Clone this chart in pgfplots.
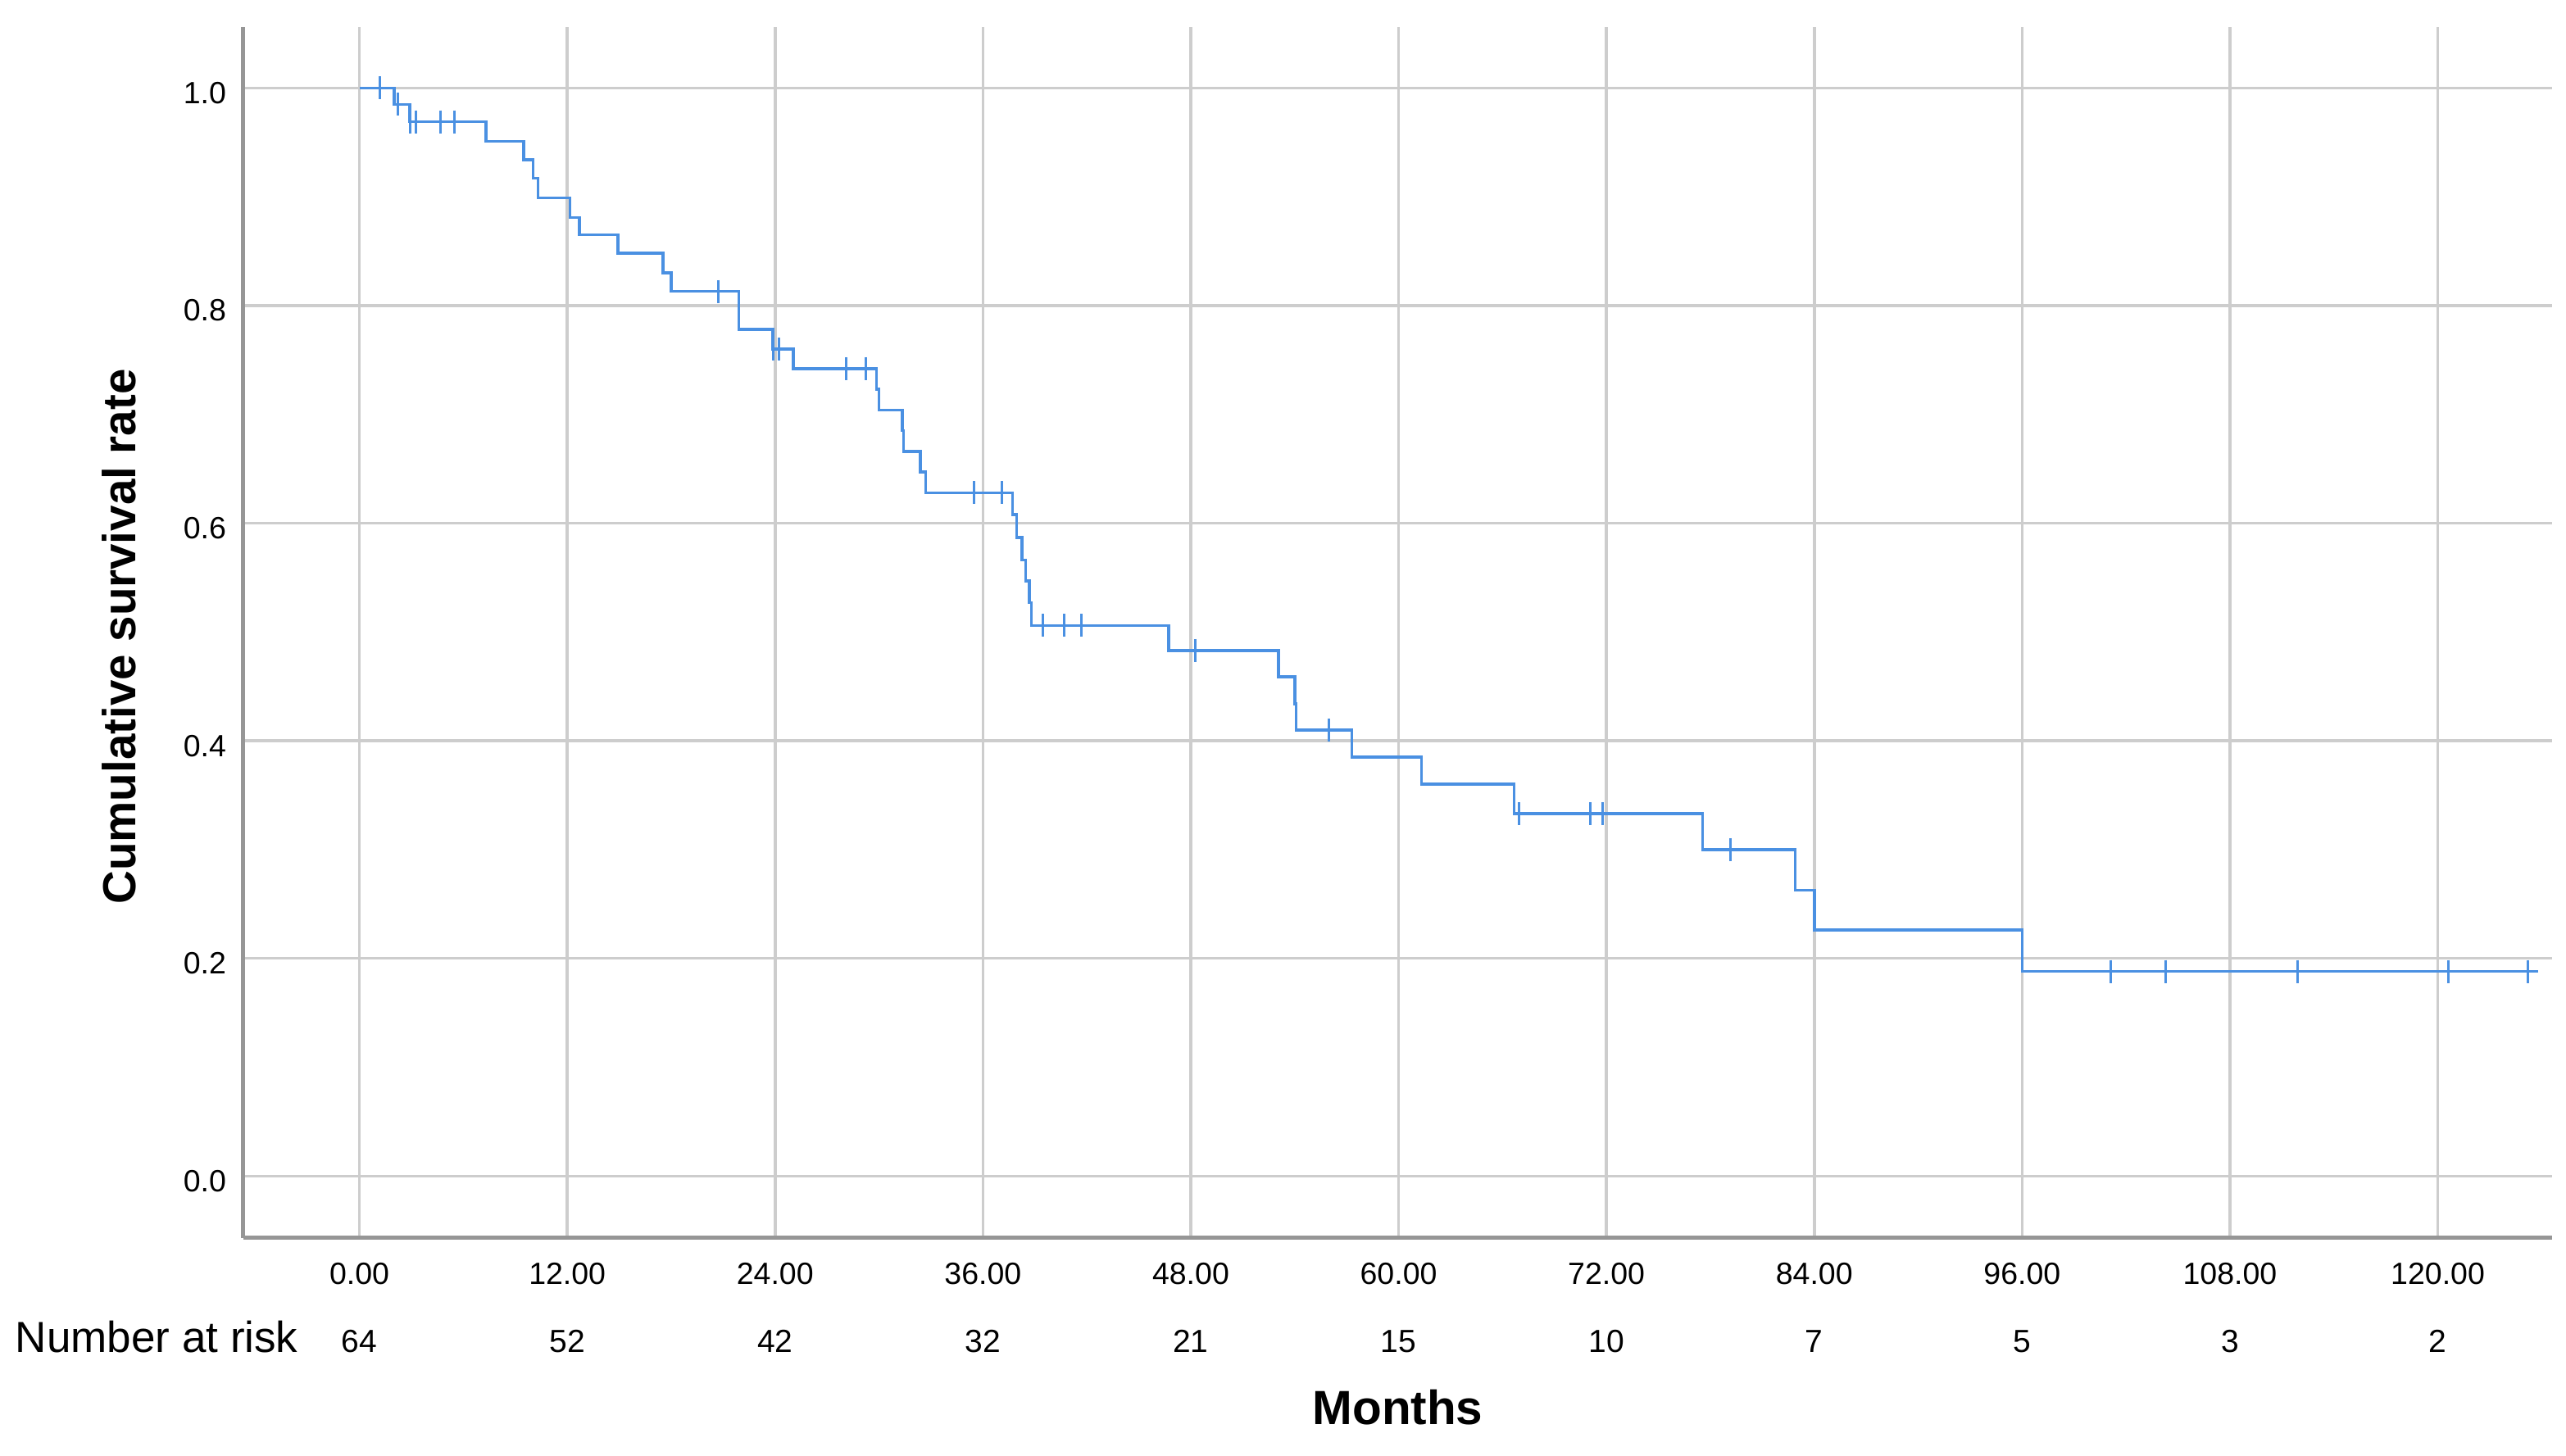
\documentclass[border=0pt]{standalone}
\usepackage{pgfplots}
\pgfplotsset{compat=1.18}
\usepackage{fontspec}
\setmainfont{Liberation Sans}
\definecolor{kmblue}{RGB}{74,144,226}
\definecolor{gridgray}{RGB}{205,205,205}
\definecolor{spinegray}{RGB}{150,150,150}
\begin{document}
\begin{tikzpicture}
\begin{axis}[
  name=ax,
  scale only axis,
  width=563.4pt, height=295.6pt,
  xmin=-6.7, xmax=126.6,
  ymin=-0.057, ymax=1.056,
  axis x line=bottom, axis y line=left,
  axis line style={draw=spinegray, line width=1pt, -},
  xtick={0,12,24,36,48,60,72,84,96,108,120},
  xticklabels={0.00,12.00,24.00,36.00,48.00,60.00,72.00,84.00,96.00,108.00,120.00},
  ytick={0,0.2,0.4,0.6,0.8,1.0},
  yticklabels={0.0,0.2,0.4,0.6,0.8,1.0},
  major tick length=0pt,
  grid=major,
  major grid style={draw=gridgray, line width=0.7pt},
  xticklabel style={font=\fontsize{7.5}{9}\selectfont, inner sep=0pt, yshift=-5.8pt},
  yticklabel style={font=\fontsize{7.5}{9}\selectfont, inner sep=0pt, xshift=-4pt, yshift=-1.2pt},
  clip=false,
]
\addplot[const plot, kmblue, line width=0.7pt] coordinates {
(0,1.000) (2.0,0.985) (2.9,0.969) (7.3,0.951) (9.48,0.934) (10.02,0.917)
(10.31,0.899) (12.16,0.881) (12.71,0.865) (14.92,0.848) (17.52,0.830)
(18.0,0.813) (21.9,0.778) (23.86,0.760) (25.05,0.742) (29.86,0.723)
(30.0,0.704) (31.34,0.685) (31.42,0.666) (32.39,0.647) (32.7,0.628)
(37.7,0.608) (37.95,0.587) (38.26,0.566) (38.47,0.547) (38.68,0.527)
(38.79,0.506) (46.72,0.483) (53.07,0.459) (54.0,0.434) (54.08,0.410)
(57.3,0.385) (61.33,0.360) (66.66,0.333) (77.55,0.300) (82.9,0.2625)
(84.0,0.226) (96.0,0.188) (125.8,0.188)
};
\addplot[only marks, mark=|, mark size=2.8pt, kmblue, mark options={line width=0.6pt}] coordinates {
(1.18,1.0) (2.2,0.985) (2.95,0.969) (3.27,0.969) (4.67,0.969) (5.5,0.969)
(20.72,0.813) (23.9,0.760) (24.2,0.760) (28.1,0.742) (29.23,0.742)
(35.5,0.628) (37.09,0.628) (39.47,0.506) (40.69,0.506) (41.7,0.506)
(48.24,0.483) (55.98,0.410) (66.96,0.333) (71.07,0.333) (71.77,0.333)
(79.18,0.300) (101.1,0.188) (104.3,0.188) (111.9,0.188) (120.6,0.188) (125.2,0.188)
};
\foreach \xx/\nn in {0/64,12/52,24/42,36/32,48/21,60/15,72/10,84/7,96/5,108/3,120/2}{
  \edef\temp{\noexpand\node[anchor=base, inner sep=0pt, font=\noexpand\fontsize{7.8}{9}\noexpand\selectfont] at ([yshift=-28pt]axis cs:\xx,-0.057) {\nn};}
  \temp
}
\end{axis}
\node[anchor=base west, inner sep=0pt, font=\fontsize{10.6}{12}\selectfont] at ([xshift=-55.8pt, yshift=-28pt]ax.south west) {Number at risk};
\node[anchor=base, inner sep=0pt, font=\fontsize{11.7}{14}\selectfont\bfseries] at ([yshift=-45.6pt]ax.south) {Months};
\node[anchor=base, rotate=90, inner sep=0pt, font=\fontsize{11.3}{14}\selectfont\bfseries] at ([xshift=-26.4pt, yshift=-1pt]ax.west) {Cumulative survival rate};
\path ([xshift=-59.4pt, yshift=-53.1pt]ax.south west) rectangle ([xshift=3.4pt, yshift=6.6pt]ax.north east);
\end{tikzpicture}
\end{document}
